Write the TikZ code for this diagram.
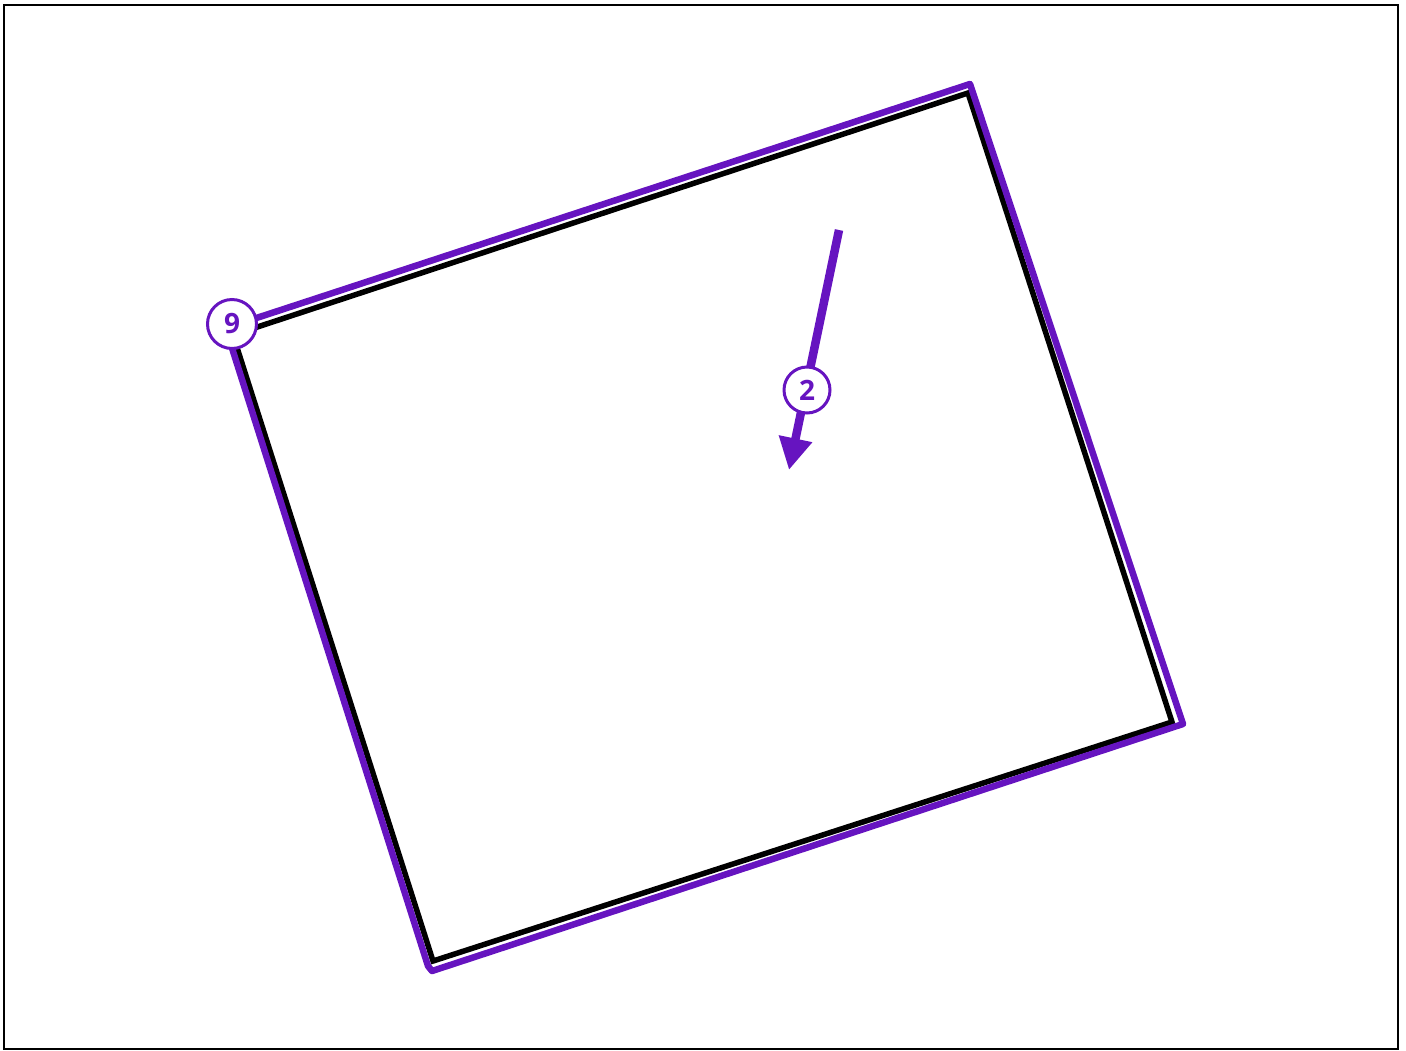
\documentclass[tikz,border=0pt]{standalone}
\usepackage{fontspec}
\setmainfont{Open Sans}
\usetikzlibrary{arrows.meta}
\definecolor{pur}{HTML}{6614C0}
\tikzset{
  badge/.style={circle, draw=pur, fill=white, line width=3pt, minimum size=49pt, inner sep=0pt, text=pur, font=\fontsize{28}{28}\selectfont\bfseries},
  purline/.style={draw=pur, line width=6.5pt, line join=round, line cap=round},
  blkline/.style={draw=black, line width=5.5pt, line join=miter},
}
\begin{document}
\begin{tikzpicture}[x=1pt,y=-1pt]
\useasboundingbox (0,0) rectangle (1406,1050);
\draw[line width=2pt] (4,5) rectangle (1398,1049);
\coordinate (p9) at (232,324);
\coordinate (b0) at (233,335);
\coordinate (b1) at (968,93);
\coordinate (b2) at (1172,722);
\coordinate (b3) at (433,961);
\coordinate (q0) at (232,326);
\coordinate (q1) at (970,84);
\coordinate (q2) at (1183,724);
\coordinate (q3) at (432,971);
\coordinate (q4) at (428,966);
\coordinate (q5) at (225,326);
\draw[blkline] (b0) -- (b1) -- (b2) -- (b3) -- cycle;
\draw[purline] (q0) -- (q1) -- (q2) -- (q3) -- (q4) -- (q5);
\coordinate (a0) at (839,230);
\coordinate (a1) at (789,470);
\draw[draw=pur, line width=8.5pt, -{Triangle[length=32pt,width=32pt]}] (a0) -- (a1);
\node[badge] (n9) at (p9) {9};
\node[badge, minimum size=46pt] (n2) at (807,390) {2};
\end{tikzpicture}
\end{document}
